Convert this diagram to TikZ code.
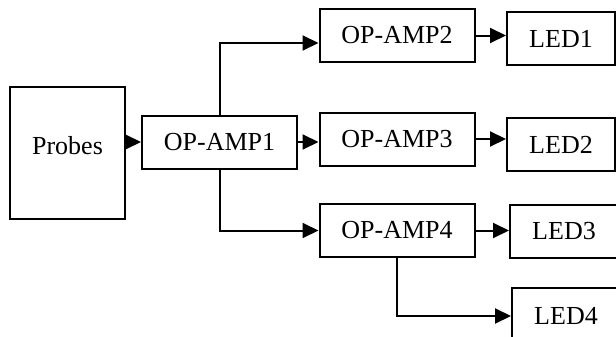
\documentclass[tikz,border=0pt]{standalone}
\usepackage{fontspec}
\setmainfont{Liberation Serif}
\usetikzlibrary{arrows.meta,calc}

\begin{document}
\begin{tikzpicture}
  [x=0.5pt,y=-0.5pt,line width=1pt,
   every node/.style={draw,rectangle,inner sep=0pt,font=\fontsize{13}{15}\selectfont},
   amp/.style={minimum width=77.5pt,minimum height=26.5pt},
   led/.style={minimum width=54pt,minimum height=26.5pt},
   arr/.style={-{Triangle[length=8pt,width=7.5pt]}}]
  \useasboundingbox (0,0) rectangle (616,337);

  \node[minimum width=57.5pt,minimum height=66pt] (probes) at (67.5,153) {\raisebox{8pt}{Probes}};
  \node[amp] (amp1) at (219.5,142)   {OP-AMP1};
  \node[amp] (amp2) at (397,35.5)    {OP-AMP2};
  \node[amp] (amp3) at (397,139)     {OP-AMP3};
  \node[amp] (amp4) at (397,230.5)   {OP-AMP4};
  \node[led] (led1) at (561,38.5)    {LED1};
  \node[led] (led2) at (561,144.5)   {LED2};
  \node[led] (led3) at (564,231.5)   {LED3};
  \node[led,minimum height=28pt] (led4) at (566,316) {LED4};

  \draw[arr] (probes.east |- amp1) -- (amp1.west);
  \draw[arr] (amp1.north) |- ($(amp2.west)+(0,7.5)$);
  \draw[arr] (amp1.south) |- (amp4.west);
  \draw[arr] (amp4.south) |- (led4.west);
  \foreach \from/\to in {amp1/amp3,amp2/led1,amp3/led2,amp4/led3}
    \draw[arr] (\from.east) -- (\to.west |- \from.east);
\end{tikzpicture}
\end{document}
